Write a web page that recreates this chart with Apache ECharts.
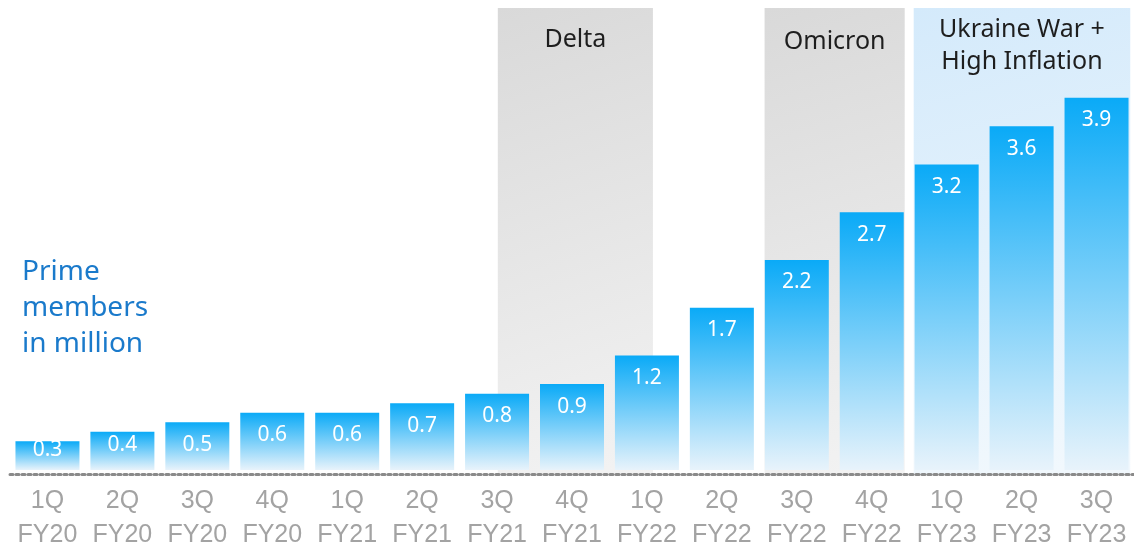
<!DOCTYPE html>
<html><head><meta charset="utf-8">
<script src="https://cdn.jsdelivr.net/npm/echarts@6/dist/echarts.min.js"></script>
<style>html,body{margin:0;padding:0;background:#fff}#c{width:1134px;height:552px}</style>
</head><body><div id="c"></div>
<script>
const categories = ['1Q\nFY20','2Q\nFY20','3Q\nFY20','4Q\nFY20','1Q\nFY21','2Q\nFY21','3Q\nFY21','4Q\nFY21','1Q\nFY22','2Q\nFY22','3Q\nFY22','4Q\nFY22','1Q\nFY23','2Q\nFY23','3Q\nFY23'];
const members = [0.3,0.4,0.5,0.6,0.6,0.7,0.8,0.9,1.2,1.7,2.2,2.7,3.2,3.6,3.9];
const periodNames = ['Delta','Omicron','Ukraine War +\nHigh Inflation'];

const chart = echarts.init(document.getElementById('c'));
const grayFill = {type:'linear',x:0,y:0,x2:1,y2:1,colorStops:[{offset:0,color:'#d9d9d9'},{offset:1,color:'#f3f3f3'}]};
const blueFill = {type:'linear',x:0,y:0,x2:0.6,y2:1,colorStops:[{offset:0,color:'#d4eafb'},{offset:1,color:'#f1f8fd'}]};
const periodLabel = (d, fs, lh) => ({show:true, position:'insideTop', distance:d, color:'#1e1e1e', fontSize:fs, lineHeight:lh, fontFamily:'Noto Sans'});

chart.setOption({
  animation:false,
  grid:{left:10,right:0,top:8,bottom:78},
  xAxis:[{
    type:'category', data:categories, z:10,
    axisTick:{show:false},
    axisLine:{onZero:false, lineStyle:{color:'#8a8a8a',width:3,type:[3,3]}},
    axisLabel:{color:'#a3a3a3',fontSize:25,lineHeight:34,margin:10,fontFamily:'Liberation Sans',interval:0}
  },{
    type:'value', min:-0.5, max:14.5, show:false
  }],
  yAxis:{type:'value',min:-0.042,max:4.84,show:false,splitLine:{show:false}},
  graphic:[{
    type:'text', left:22, top:254,
    style:{text:'Prime\nmembers\nin million', fill:'#1a7acb', fontSize:28, lineHeight:36, fontFamily:'Noto Sans'}
  }],
  series:[{
    type:'line', xAxisIndex:1, data:[[0,0]], symbol:'none', lineStyle:{opacity:0}, z:1, silent:true,
    markArea:{silent:true, data:[
      [{xAxis:6.01, name:periodNames[0], itemStyle:{color:grayFill}, label:periodLabel(17,25,30)},{xAxis:8.08}],
      [{xAxis:9.57, name:periodNames[1], itemStyle:{color:grayFill}, label:periodLabel(19,25,30)},{xAxis:11.44}],
      [{xAxis:11.56, name:periodNames[2], itemStyle:{color:blueFill}, label:periodLabel(6,25,32)},{xAxis:14.45}]
    ]}
  },{
    type:'bar', data:members.map((v,i)=>({value:v, label: i<2 ? {distance: i===0?-2:3} : undefined})), barWidth:64, z:3,
    itemStyle:{color:{type:'linear',x:0,y:0,x2:0,y2:1,colorStops:[{offset:0,color:'#0aaaf7'},{offset:1,color:'#e8f3fb'}]}},
    label:{show:true, position:'insideTop', distance:12, color:'#fff', fontSize:21, fontFamily:'Noto Sans', formatter:p=>p.value.toFixed(1)}
  }]
});
</script></body></html>
